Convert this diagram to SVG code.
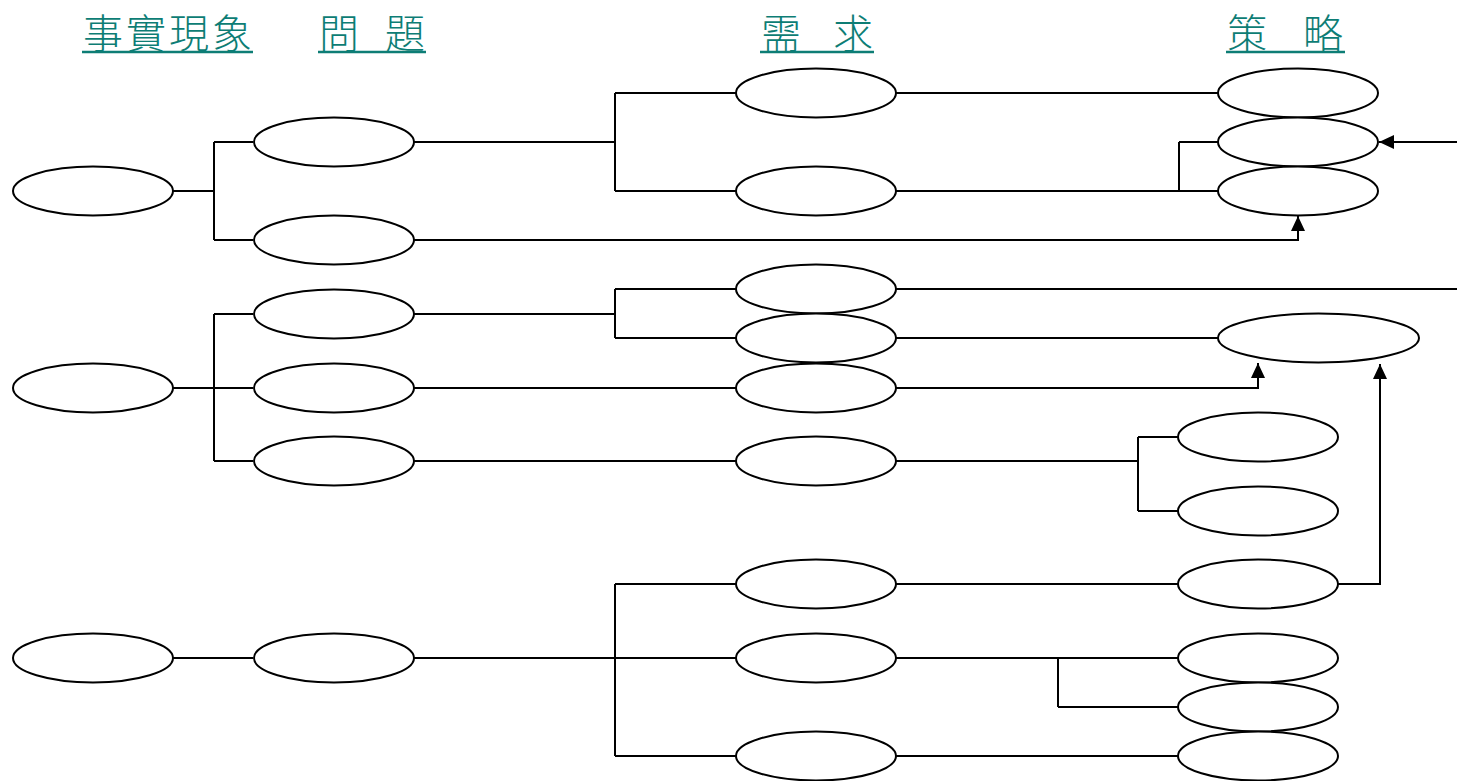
<svg xmlns="http://www.w3.org/2000/svg" width="1457" height="781" viewBox="0 0 1457 781">
<defs>
<style>
.hd{font-family:"Noto Sans CJK TC","Noto Sans CJK SC",sans-serif;font-size:40px;fill:#0d7d75;font-weight:300}
.ul{stroke:#0d7d75;stroke-width:2.5}
ellipse{fill:#fff;stroke:#000;stroke-width:2}
.c path{fill:none;stroke:#000;stroke-width:2}
</style>
<marker id="ah" viewBox="0 0 15 14" refX="15" refY="7" markerWidth="15" markerHeight="14" markerUnits="userSpaceOnUse" orient="auto">
<path d="M0,0 L15,7 L0,14 Z" fill="#000"/>
</marker>
</defs>
<rect width="1457" height="781" fill="#fff"/>
<g id="headers">
<text class="hd" x="83" y="48" textLength="169" lengthAdjust="spacing">事實現象</text>
<line class="ul" x1="82" y1="52" x2="253" y2="52"/>
<text class="hd" y="48"><tspan x="319">問</tspan> <tspan x="385">題</tspan></text>
<line class="ul" x1="318" y1="52" x2="426" y2="52"/>
<text class="hd" y="48"><tspan x="761">需</tspan> <tspan x="833">求</tspan></text>
<line class="ul" x1="760" y1="52" x2="874" y2="52"/>
<text class="hd" y="48"><tspan x="1227">策</tspan> <tspan x="1303">略</tspan></text>
<line class="ul" x1="1226" y1="52" x2="1345" y2="52"/>
</g>
<g id="connectors" class="c">
<path d="M173,191 H214 M214,142 V240 M214,142 H253 M214,240 H253"/>
<path d="M414,142 H615 M615,93 V191 M615,93 H736 M615,191 H736"/>
<path d="M896,93 H1218"/>
<path d="M896,191 H1218 M1179,142 V191 M1179,142 H1218"/>
<path d="M1457,142 H1379" marker-end="url(#ah)"/>
<path d="M414,240 H1298 V216" marker-end="url(#ah)"/>
<path d="M173,388 H253 M214,314 V461 M214,314 H253 M214,461 H253"/>
<path d="M414,314 H615 M615,289 V338 M615,289 H736 M615,338 H736"/>
<path d="M896,289 H1457"/>
<path d="M896,338 H1218"/>
<path d="M414,388 H736"/>
<path d="M896,388 H1258 V363" marker-end="url(#ah)"/>
<path d="M414,461 H736"/>
<path d="M896,461 H1138 M1138,437 V511 M1138,437 H1178 M1138,511 H1178"/>
<path d="M173,658 H253"/>
<path d="M414,658 H736 M615,584 V756 M615,584 H736 M615,756 H736"/>
<path d="M896,584 H1178"/>
<path d="M1338,584 H1380 V364" marker-end="url(#ah)"/>
<path d="M896,658 H1178 M1058,658 V707 M1058,707 H1178"/>
<path d="M896,756 H1178"/>
</g>
<g id="n-fact1"><ellipse cx="93" cy="191" rx="80" ry="24.5"/></g>
<g id="n-fact2"><ellipse cx="93" cy="388" rx="80" ry="24.5"/></g>
<g id="n-fact3"><ellipse cx="93" cy="658" rx="80" ry="24.5"/></g>
<g id="n-prob1"><ellipse cx="334" cy="142" rx="80" ry="24.5"/></g>
<g id="n-prob2"><ellipse cx="334" cy="240" rx="80" ry="24.5"/></g>
<g id="n-prob3"><ellipse cx="334" cy="314" rx="80" ry="24.5"/></g>
<g id="n-prob4"><ellipse cx="334" cy="388" rx="80" ry="24.5"/></g>
<g id="n-prob5"><ellipse cx="334" cy="461" rx="80" ry="24.5"/></g>
<g id="n-prob6"><ellipse cx="334" cy="658" rx="80" ry="24.5"/></g>
<g id="n-need1"><ellipse cx="816" cy="93" rx="80" ry="24.5"/></g>
<g id="n-need2"><ellipse cx="816" cy="191" rx="80" ry="24.5"/></g>
<g id="n-need3"><ellipse cx="816" cy="289" rx="80" ry="24.5"/></g>
<g id="n-need4"><ellipse cx="816" cy="338" rx="80" ry="24.5"/></g>
<g id="n-need5"><ellipse cx="816" cy="388" rx="80" ry="24.5"/></g>
<g id="n-need6"><ellipse cx="816" cy="461" rx="80" ry="24.5"/></g>
<g id="n-need7"><ellipse cx="816" cy="584" rx="80" ry="24.5"/></g>
<g id="n-need8"><ellipse cx="816" cy="658" rx="80" ry="24.5"/></g>
<g id="n-need9"><ellipse cx="816" cy="756" rx="80" ry="24.5"/></g>
<g id="n-strat1"><ellipse cx="1298" cy="93" rx="80" ry="24.5"/></g>
<g id="n-strat2"><ellipse cx="1298" cy="142" rx="80" ry="24.5"/></g>
<g id="n-strat3"><ellipse cx="1298" cy="191" rx="80" ry="24.5"/></g>
<g id="n-strat4"><ellipse cx="1318.5" cy="338" rx="100.5" ry="24.5"/></g>
<g id="n-strat5"><ellipse cx="1258" cy="437" rx="80" ry="24.5"/></g>
<g id="n-strat6"><ellipse cx="1258" cy="511" rx="80" ry="24.5"/></g>
<g id="n-strat7"><ellipse cx="1258" cy="584" rx="80" ry="24.5"/></g>
<g id="n-strat8"><ellipse cx="1258" cy="658" rx="80" ry="24.5"/></g>
<g id="n-strat9"><ellipse cx="1258" cy="707" rx="80" ry="24.5"/></g>
<g id="n-strat10"><ellipse cx="1258" cy="756" rx="80" ry="24.5"/></g>
</svg>
